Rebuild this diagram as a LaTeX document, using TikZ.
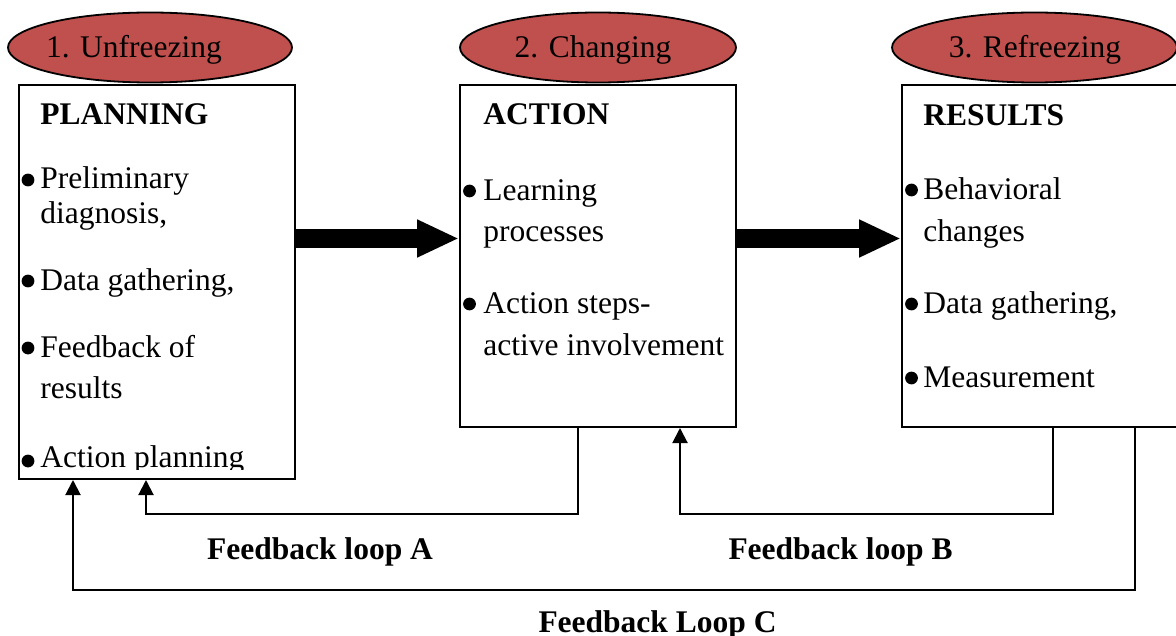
\documentclass[tikz,border=0pt]{standalone}
\usepackage{fontspec}
\setmainfont{Liberation Serif}
\usetikzlibrary{arrows.meta,shapes.geometric,calc}
\definecolor{stagered}{RGB}{192,80,77}
\begin{document}
\begin{tikzpicture}[x=0.5pt,y=-0.5pt,
  every node/.style={font=\fontsize{15.75}{18}\selectfont},
  box/.style={draw,line width=1pt,rectangle,inner sep=0pt},
  stage/.style={draw,line width=0.9pt,ellipse,fill=stagered,inner sep=0pt,minimum height=35pt},
  txt/.style={anchor=base west,inner sep=0pt},
  head/.style={txt,font=\fontsize{15.75}{18}\selectfont\bfseries},
  ctr/.style={anchor=base,inner sep=0pt},
  loopl/.style={ctr,font=\fontsize{15.75}{18}\selectfont\bfseries},
  fat/.style={line width=9.5pt,-{Triangle[length=21pt,width=17.5pt]}},
  fb/.style={line width=1pt,-{Triangle[length=7.5pt,width=7.5pt]}},
  bul/.style={fill=black}
]
\useasboundingbox (0,0) rectangle (1176,636);
\clip (0,0) rectangle (1176,636);

% stage ellipses
\node[stage,minimum width=142pt] (s1) at (150,47.5) {};
\node[stage,minimum width=138pt] (s2) at (598,47.5) {};
\node[stage,minimum width=142.5pt] (s3) at (1034.5,47.5) {};
\node[ctr] (s1t) at (134,58) {1. Unfreezing};
\node[ctr] (s2t) at (593,58) {2. Changing};
\node[ctr] (s3t) at (1035,58) {3. Refreezing};

% boxes
\node[box,minimum width=138pt,minimum height=197pt] (plan) at (157,282) {};
\node[box,minimum width=138pt,minimum height=171pt] (action) at (598,256) {};
\node[box,minimum width=144pt,minimum height=171pt] (results) at (1046,256) {};

% planning text
\node[head] (h1) at (40,125) {PLANNING};
\node[txt] (p1) at (40,189) {Preliminary};
\node[txt] (p1b) at (40,223) {diagnosis,};
\node[txt] (p2) at (40,290) {Data gathering,};
\node[txt] (p3) at (40,357) {Feedback of};
\node[txt] (p3b) at (40,398) {results};
\begin{scope}
\clip (19,85) rectangle (295,469);
\node[txt] (p4) at (40,467) {Action planning};
\end{scope}
\foreach \y in {180,281,348,461} \fill[bul] (28,\y) circle[radius=3.2pt];

% action text
\node[head] (h2) at (483,125) {ACTION};
\node[txt] (a1) at (483,200) {Learning};
\node[txt] (a1b) at (483,242) {processes};
\node[txt] (a2) at (483,313) {Action steps-};
\node[txt] (a2b) at (483,355) {active involvement};
\foreach \y in {191,304} \fill[bul] (469.5,\y) circle[radius=3.2pt];

% results text
\node[head] (h3) at (923,126) {RESULTS};
\node[txt] (r1) at (923,199) {Behavioral};
\node[txt] (r1b) at (923,242) {changes};
\node[txt] (r2) at (923,313) {Data gathering,};
\node[txt] (r3) at (923,387) {Measurement};
\foreach \y in {190,304,378} \fill[bul] (911.5,\y) circle[radius=3.2pt];

% fat arrows
\coordinate (fy) at (0,238.5);
\draw[fat] (plan.east |- fy) -- (action.west |- fy);
\draw[fat] (action.east |- fy) -- (results.west |- fy);

% feedback loops
\coordinate (xa1) at (578,0);
\coordinate (xa2) at (146,0);
\coordinate (ya) at (0,514);
\coordinate (xb1) at (1053,0);
\coordinate (xb2) at (680,0);
\coordinate (xc1) at (1135,0);
\coordinate (xc2) at (73,0);
\coordinate (yc) at (0,590);
\draw[fb] (xa1 |- action.south) -- (xa1 |- ya) -- (xa2 |- ya) -- (xa2 |- plan.south);
\draw[fb] (xb1 |- results.south) -- (xb1 |- ya) -- (xb2 |- ya) -- (xb2 |- action.south);
\draw[fb] (xc1 |- results.south) -- (xc1 |- yc) -- (xc2 |- yc) -- (xc2 |- plan.south);

% loop labels
\node[loopl] (la) at (320,559) {Feedback loop A};
\node[loopl] (lb) at (840.5,559) {Feedback loop B};
\node[loopl] (lc) at (657.5,632) {Feedback Loop C};
\end{tikzpicture}
\end{document}
